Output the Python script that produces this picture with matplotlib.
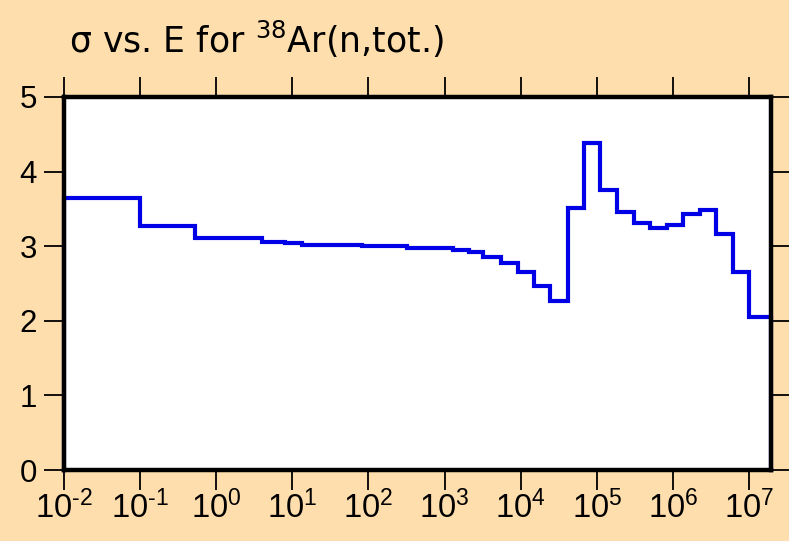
import matplotlib
matplotlib.use("Agg")
import matplotlib.pyplot as plt
import numpy as np
from matplotlib.ticker import FixedLocator, FuncFormatter

plt.rcParams["font.family"] = ["Liberation Sans", "DejaVu Sans"]
plt.rcParams["mathtext.fontset"] = "custom"
plt.rcParams["mathtext.rm"] = "Liberation Sans"
plt.rcParams["mathtext.it"] = "Liberation Sans"
plt.rcParams["mathtext.default"] = "regular"

# group boundaries (eV) and cross section per group (b)
edges = [1e-2, 1e-1, 0.53, 4.0, 8.1, 13.5, 21.5, 39, 83, 145, 324, 725, 1290,
         2090, 3240, 5500, 9100, 1.48e4, 2.45e4, 4.17e4, 6.8e4, 1.1e5, 1.82e5,
         3.1e5, 5.0e5, 8.3e5, 1.35e6, 2.3e6, 3.7e6, 6.2e6, 1e7, 1.95e7]
sigma = [3.65, 3.27, 3.11, 3.06, 3.04, 3.02, 3.02, 3.01, 3.00, 3.00, 2.98, 2.97,
         2.95, 2.92, 2.86, 2.78, 2.66, 2.47, 2.26, 3.51, 4.39, 3.75, 3.46, 3.31,
         3.24, 3.28, 3.43, 3.49, 3.17, 2.66, 2.05]
xticks = [1e-2, 1e-1, 1e0, 1e1, 1e2, 1e3, 1e4, 1e5, 1e6, 1e7]
yticks = [0, 1, 2, 3, 4, 5]


def pow10(v, pos):
    e = int(round(np.log10(v)))
    sign = "\u2010" if e < 0 else ""
    return r"$10^{%s%d}$" % (sign, abs(e))


bg = "#FFDEAD"
fig = plt.figure(figsize=(7.89, 5.41), dpi=100, facecolor=bg)
ax = fig.add_axes([64 / 789, 1 - 470 / 541, (771 - 64) / 789, (470 - 97) / 541])
ax.set_facecolor("white")

xs = np.repeat(edges, 2)
ys = np.concatenate([[0], np.repeat(sigma, 2), [0]])
ax.plot(xs, ys, color="#0000E6", lw=3.0, solid_joinstyle="miter", clip_on=False, zorder=3)

ax.set_xscale("log")
ax.set_xlim(edges[0], edges[-1])
ax.set_ylim(0, 5)
ax.xaxis.set_major_locator(FixedLocator(xticks))
ax.xaxis.set_minor_locator(FixedLocator([]))
ax.xaxis.set_major_formatter(FuncFormatter(pow10))
ax.set_yticks(yticks)

for s in ax.spines.values():
    s.set_linewidth(3.2)
    s.set_zorder(4)
ax.tick_params(which="major", direction="out", length=14.5, width=1.3, color="black",
               top=True, right=True, labeltop=False, labelright=False)
ax.tick_params(axis="x", labelsize=23.5, pad=0.5)
ax.tick_params(axis="y", labelsize=22.5, pad=5)

fig.text(69 / 789, 1 - 53 / 541, r"σ vs. E for $^{38}$Ar(n,tot.)", fontsize=25,
         family=["DejaVu Sans"], ha="left", va="baseline")

fig.savefig("out.png", dpi=100, facecolor=bg)
